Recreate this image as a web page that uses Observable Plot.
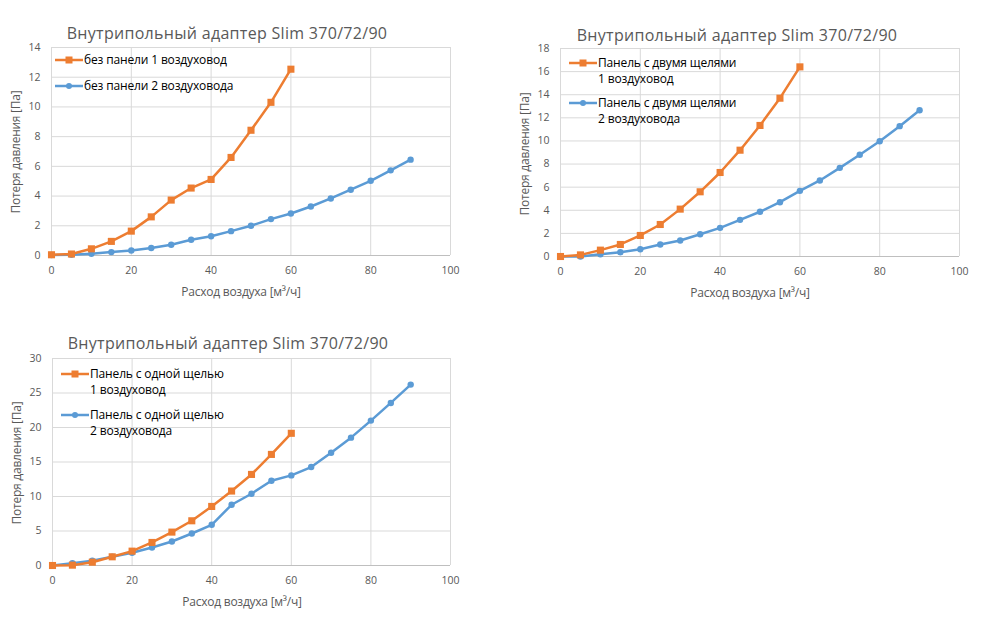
<!DOCTYPE html>
<html>
<head>
<meta charset="utf-8">
<script src="https://cdn.jsdelivr.net/npm/d3@7"></script>
<script src="https://cdn.jsdelivr.net/npm/@observablehq/plot@0.6"></script>
<style>
  html, body { margin: 0; padding: 0; background: #fff; }
  #root { position: relative; width: 1000px; height: 617px; overflow: hidden; font-family: "Open Sans", sans-serif; }
  .abs { position: absolute; }
  .title { color: #595959; font-size: 16px; line-height: 20px; text-align: center; width: 500px; letter-spacing: 0.3px; white-space: nowrap; }
  .axlab { color: #595959; font-size: 12px; line-height: 16px; text-align: center; width: 300px; letter-spacing: -0.25px; white-space: nowrap; }
  .leg { color: #000; font-size: 12px; line-height: 16.5px; letter-spacing: -0.15px; white-space: nowrap; }
</style>
</head>
<body>
<div id="root"></div>
<script>
// ---- data ----
const flow1duct = [0, 5, 10, 15, 20, 25, 30, 35, 40, 45, 50, 55, 60];
const flow2duct = [0, 5, 10, 15, 20, 25, 30, 35, 40, 45, 50, 55, 60, 65, 70, 75, 80, 85, 90];

const noPanel1 = [0.05, 0.1, 0.45, 0.95, 1.64, 2.6, 3.73, 4.54, 5.12, 6.6, 8.43, 10.31, 12.54];
const noPanel2 = [0.03, 0.05, 0.12, 0.23, 0.34, 0.5, 0.72, 1.06, 1.3, 1.64, 2.0, 2.45, 2.83, 3.3, 3.84, 4.43, 5.03, 5.73, 6.45];

const twoSlot1 = [0.0, 0.14, 0.55, 1.04, 1.82, 2.77, 4.1, 5.6, 7.27, 9.2, 11.34, 13.7, 16.41];
const twoSlot2 = [0.0, 0.0, 0.2, 0.37, 0.63, 1.04, 1.38, 1.93, 2.48, 3.17, 3.87, 4.7, 5.68, 6.58, 7.67, 8.8, 9.98, 11.28, 12.66];

const oneSlot1 = [0.0, 0.05, 0.48, 1.26, 2.08, 3.34, 4.84, 6.48, 8.56, 10.79, 13.2, 16.1, 19.16];
const oneSlot2 = [0.0, 0.34, 0.68, 1.26, 1.84, 2.61, 3.48, 4.64, 5.9, 8.8, 10.4, 12.29, 13.06, 14.27, 16.35, 18.53, 21.0, 23.56, 26.22];

const xTicks = [0, 20, 40, 60, 80, 100];
const yTicksA = [0, 2, 4, 6, 8, 10, 12, 14];
const yTicksB = [0, 2, 4, 6, 8, 10, 12, 14, 16, 18];
const yTicksC = [0, 5, 10, 15, 20, 25, 30];

const chartTitle = "Внутрипольный адаптер Slim 370/72/90";
const xTitle = "Расход воздуха [м³/ч]";
const yTitle = "Потеря давления [Па]";

const legendA = [["без панели 1 воздуховод"], ["без панели 2 воздуховода"]];
const legendB = [["Панель с двумя щелями", "1 воздуховод"], ["Панель с двумя щелями", "2 воздуховода"]];
const legendC = [["Панель с одной щелью", "1 воздуховод"], ["Панель с одной щелью", "2 воздуховода"]];

const orange = "#ED7D31";
const blue = "#5B9BD5";

const root = document.getElementById("root");

function addDiv(cls, text, styles) {
  const d = document.createElement("div");
  d.className = "abs " + cls;
  d.textContent = text;
  Object.assign(d.style, styles);
  root.appendChild(d);
  return d;
}

function makeChart(cfg) {
  const s1 = flow1duct.map((x, i) => ({x, y: cfg.s1[i]}));
  const s2 = flow2duct.map((x, i) => ({x, y: cfg.s2[i]}));
  const yMax = cfg.yTicks[cfg.yTicks.length - 1];
  const svg = Plot.plot({
    width: cfg.w,
    height: cfg.h,
    marginLeft: cfg.ml,
    marginRight: cfg.mr,
    marginTop: cfg.mt,
    marginBottom: cfg.mb,
    style: {fontFamily: "Open Sans, sans-serif", fontSize: "10.5px", color: "#595959", background: "transparent"},
    x: {domain: [0, 100], ticks: xTicks, label: null},
    y: {domain: [0, yMax], ticks: cfg.yTicks, label: null},
    marks: [
      Plot.gridX(xTicks, {stroke: "#d9d9d9", strokeOpacity: 1}),
      Plot.gridY(cfg.yTicks, {stroke: "#d9d9d9", strokeOpacity: 1}),
      Plot.ruleY([0], {stroke: "#bfbfbf"}),
      Plot.axisX(xTicks, {tickSize: 0, tickPadding: 11, fill: "#595959", fontSize: 10.5}),
      Plot.axisY(cfg.yTicks, {tickSize: 0, tickPadding: 11, fill: "#595959", fontSize: 10.5}),
      Plot.line(s2, {x: "x", y: "y", stroke: blue, strokeWidth: 2.5}),
      Plot.dot(s2, {x: "x", y: "y", r: 3.2, fill: blue, symbol: "circle"}),
      Plot.line(s1, {x: "x", y: "y", stroke: orange, strokeWidth: 2.5}),
      Plot.dot(s1, {x: "x", y: "y", r: 4, fill: orange, symbol: "square"})
    ]
  });
  const wrap = document.createElement("div");
  wrap.className = "abs";
  wrap.style.left = cfg.left + "px";
  wrap.style.top = cfg.top + "px";
  wrap.appendChild(svg);
  root.appendChild(wrap);

  addDiv("title", chartTitle, {left: (cfg.tx - 250) + "px", top: (cfg.ty - 10) + "px"});
  addDiv("axlab", xTitle, {left: (cfg.xlx - 150) + "px", top: (cfg.xly - 8) + "px"});
  addDiv("axlab", yTitle, {left: (cfg.ylx - 150) + "px", top: (cfg.yly - 8) + "px", transform: "rotate(-90deg)"});

  // legend
  const colors = [orange, blue];
  const shapes = ["square", "circle"];
  cfg.legend.forEach((lines, k) => {
    const yc = cfg.legY[k];
    const sw = document.createElementNS("http://www.w3.org/2000/svg", "svg");
    sw.setAttribute("width", 30);
    sw.setAttribute("height", 12);
    sw.setAttribute("class", "abs");
    sw.style.left = cfg.legX + "px";
    sw.style.top = (yc - 6) + "px";
    const ln = document.createElementNS(sw.namespaceURI, "line");
    ln.setAttribute("x1", 0); ln.setAttribute("x2", 28); ln.setAttribute("y1", 6); ln.setAttribute("y2", 6);
    ln.setAttribute("stroke", colors[k]); ln.setAttribute("stroke-width", 2.5);
    sw.appendChild(ln);
    let m;
    if (shapes[k] === "square") {
      m = document.createElementNS(sw.namespaceURI, "rect");
      m.setAttribute("x", 14 - 3.5); m.setAttribute("y", 6 - 3.5); m.setAttribute("width", 7); m.setAttribute("height", 7);
    } else {
      m = document.createElementNS(sw.namespaceURI, "circle");
      m.setAttribute("cx", 14); m.setAttribute("cy", 6); m.setAttribute("r", 3);
    }
    m.setAttribute("fill", colors[k]);
    sw.appendChild(m);
    root.appendChild(sw);
    lines.forEach((t, j) => {
      addDiv("leg", t, {left: (cfg.legX + 29) + "px", top: (yc - 8.25 + j * cfg.legLine) + "px"});
    });
  });
}

makeChart({
  s1: noPanel1, s2: noPanel2, yTicks: yTicksA,
  left: 0, top: 0, w: 470, h: 310, ml: 51, mr: 20, mt: 47, mb: 55,
  tx: 227, ty: 33, xlx: 241, xly: 292, ylx: 16, yly: 152,
  legend: legendA, legX: 55, legY: [60, 86], legLine: 16.5
});
makeChart({
  s1: twoSlot1, s2: twoSlot2, yTicks: yTicksB,
  left: 500, top: 0, w: 480, h: 310, ml: 60, mr: 21, mt: 48, mb: 54,
  tx: 737, ty: 35, xlx: 750, xly: 293, ylx: 525, yly: 154,
  legend: legendB, legX: 569, legY: [63, 103], legLine: 16.5
});
makeChart({
  s1: oneSlot1, s2: oneSlot2, yTicks: yTicksC,
  left: 0, top: 310, w: 470, h: 307, ml: 52, mr: 20, mt: 48, mb: 52,
  tx: 228, ty: 343, xlx: 242, xly: 602, ylx: 17, yly: 463,
  legend: legendC, legX: 61, legY: [374, 415], legLine: 16.5
});
</script>
</body>
</html>
